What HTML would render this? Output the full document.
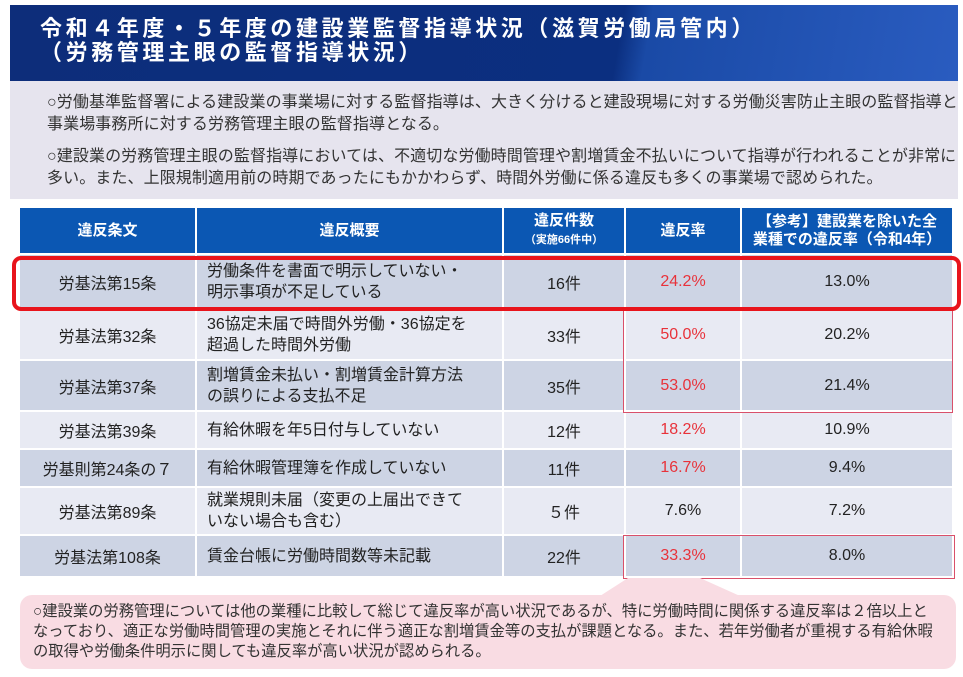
<!DOCTYPE html>
<html><head><meta charset="utf-8"><style>
*{margin:0;padding:0;box-sizing:border-box}
body{width:963px;height:677px;background:#fff;position:relative;overflow:hidden;font-family:"Liberation Sans","Noto Sans CJK JP",sans-serif;color:#222}
.a{position:absolute}
.hdr{left:10px;top:5px;width:948px;height:76px;background:linear-gradient(100deg,#0d2d7a 0%,#0b2f80 64%,#1a4aa6 67%,#2a5cc0 100%);color:#fff;font-weight:bold;font-size:22px;line-height:24px;padding:12px 0 0 30px;letter-spacing:3.6px;white-space:nowrap}
.gray{left:10px;top:81px;width:948px;height:118px;background:#e6e4ee;font-size:16px;line-height:22px;padding:11px 0 0 37px;color:#333;white-space:nowrap;overflow:hidden;letter-spacing:0.1px}
.c{position:absolute;display:flex;align-items:center;justify-content:center;text-align:center;font-size:16px;border-right:2px solid #fff;border-bottom:2px solid #fff;white-space:nowrap}
.h{background:#0b57b3;color:#fff;font-weight:bold;font-size:15px;line-height:18px}
.l{justify-content:flex-start;text-align:left;padding-left:10px;line-height:21px}
.r{color:#e8323a}
.pink{left:20px;top:595px;width:936px;height:74px;background:#f9dce3;border-radius:12px;font-size:15.3px;line-height:20px;padding:7px 0 0 13px;color:#333;white-space:nowrap;overflow:hidden}
</style></head><body>
<div class="a hdr">令和４年度・５年度の建設業監督指導状況（滋賀労働局管内）<br>（労務管理主眼の監督指導状況）</div>
<div class="a gray">○労働基準監督署による建設業の事業場に対する監督指導は、大きく分けると建設現場に対する労働災害防止主眼の監督指導と<br>事業場事務所に対する労務管理主眼の監督指導となる。<div style="height:10px"></div>○建設業の労務管理主眼の監督指導においては、不適切な労働時間管理や割増賃金不払いについて指導が行われることが非常に<br>多い。また、上限規制適用前の時期であったにもかかわらず、時間外労働に係る違反も多くの事業場で認められた。</div>
<div id="t"></div>
<svg class="a" style="left:0;top:0" width="963" height="677">
<polygon points="628,578 700,578 740,596 600,596" fill="#f9dce3"/>
</svg>
<div class="a pink">○建設業の労務管理については他の業種に比較して総じて違反率が高い状況であるが、特に労働時間に関係する違反率は２倍以上と<br>なっており、適正な労働時間管理の実施とそれに伴う適正な割増賃金等の支払が課題となる。また、若年労働者が重視する有給休暇<br>の取得や労働条件明示に関しても違反率が高い状況が認められる。</div>
<script>
var X=[20,197,504,626,742,954];
var rows=[[208,255],[255,311],[311,361],[361,412],[412,450],[450,488],[488,536],[536,578]];
var data=[
["違反条文","違反概要","違反件数<br><span style='font-size:11px'>（実施66件中）</span>","違反率","【参考】建設業を除いた全<br>業種での違反率（令和4年）"],
["労基法第15条","労働条件を書面で明示していない・<br>明示事項が不足している","16件","24.2%","13.0%"],
["労基法第32条","36協定未届で時間外労働・36協定を<br>超過した時間外労働","33件","50.0%","20.2%"],
["労基法第37条","割増賃金未払い・割増賃金計算方法<br>の誤りによる支払不足","35件","53.0%","21.4%"],
["労基法第39条","有給休暇を年5日付与していない","12件","18.2%","10.9%"],
["労基則第24条の７","有給休暇管理簿を作成していない","11件","16.7%","9.4%"],
["労基法第89条","就業規則未届（変更の上届出できて<br>いない場合も含む）","５件","7.6%","7.2%"],
["労基法第108条","賃金台帳に労働時間数等未記載","22件","33.3%","8.0%"]];
var h="";
for(var i=0;i<rows.length;i++){for(var j=0;j<5;j++){
var cls="c"+(i==0?" h":"")+(i>0&&j==1?" l":"")+(i>0&&j==3&&i!=6?" r":"");
var bg=i==0?"":(i%2==1?"background:#cdd4e4;":"background:#e8eaf3;");
h+="<div class='"+cls+"' style='"+bg+"left:"+X[j]+"px;top:"+rows[i][0]+"px;width:"+(X[j+1]-X[j])+"px;height:"+(rows[i][1]-rows[i][0])+"px'><div>"+data[i][j]+"</div></div>";}}
h+="<div class='a' style='left:623px;top:310px;width:330px;height:103px;border:1.5px solid #d9506a'></div>";
h+="<div class='a' style='left:623px;top:535px;width:332px;height:44px;border:1.5px solid #d9506a'></div>";
h+="<div class='a' style='left:12px;top:256px;width:949px;height:55px;border:4px solid #e8141c;border-radius:9px'></div>";
document.getElementById("t").innerHTML=h;
</script>
</body></html>
